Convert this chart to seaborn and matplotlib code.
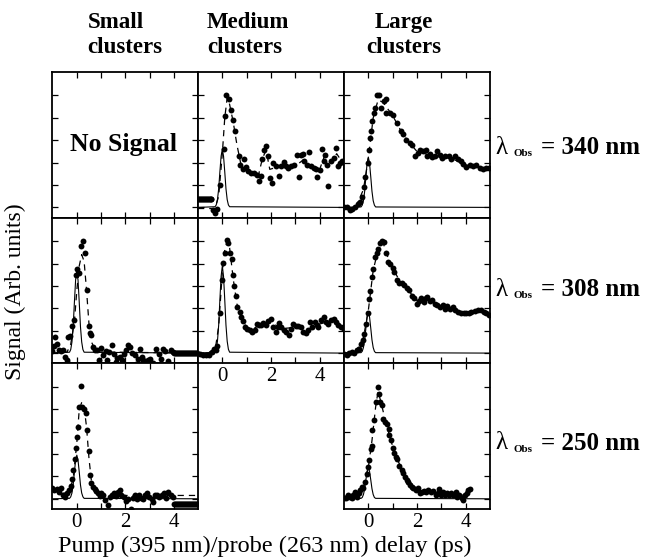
import matplotlib
matplotlib.use("Agg")
import matplotlib.pyplot as plt
import seaborn as sns

# ---- data (delay in ps, signal in arb. units) ----

# instrument response (solid line), shared delay grid
irf_t = [-1.0, -0.3, -0.25, -0.2, -0.15, -0.1, -0.05, 0.0, 0.05, 0.1, 0.15, 0.2, 0.25, 0.3, 5.0]

# Medium clusters, 340 nm
med340_t = [-0.40, -0.31, -0.20, -0.09, 0.05, 0.09, 0.17, 0.26, 0.35, 0.43, 0.51, 0.67, 0.90, 0.73,
            0.83, 0.97, 1.06, 1.17, 1.31, 1.42, 1.49, 1.58, 1.62, 1.72, 1.80, 1.86, 1.94, 2.04, 2.10,
            2.20, 2.31, 2.41, 2.52, 2.61, 2.71, 2.82, 2.95, 3.07, 3.16, 3.23, 3.30, 3.37, 3.47, 3.55,
            3.64, 3.75, 3.84, 3.91, 4.02, 4.10, 4.16, 4.23, 4.30, 4.36, 4.46, 4.57, 4.67, 4.74, 4.83, 4.93]
med340_s = [-0.11, -0.26, -0.08, 1.01, 2.61, 4.07, 5.04, 4.85, 4.37, 3.92, 3.43, 2.28, 2.17, 1.91,
            1.71, 1.80, 1.61, 1.53, 1.53, 1.46, 1.19, 1.41, 2.16, 2.58, 2.73, 2.31, 1.31, 1.09, 1.98,
            1.83, 1.41, 1.83, 2.05, 1.83, 1.78, 1.83, 1.91, 2.34, 1.35, 2.34, 2.40, 2.08, 1.91, 2.46,
            1.83, 1.75, 1.70, 1.35, 1.68, 2.61, 2.06, 2.34, 1.88, 0.96, 2.08, 2.20, 2.64, 1.83, 1.98, 2.08]
med340_hold_t = [-1.0, -0.96, -0.92, -0.88, -0.84, -0.8, -0.76, -0.72, -0.68, -0.64, -0.6, -0.56,
                 -0.52, -0.48, -0.45]
med340_hold_s = 0.38
med340_fit_t = [-1.0, -0.3, -0.15, 0.0, 0.1, 0.2, 0.3, 0.45, 0.6, 0.75, 0.9, 1.2, 1.5, 1.65, 1.8,
                1.95, 2.1, 2.5, 3.0, 3.3, 3.6, 4.0, 4.2, 4.5, 4.7, 5.0]
med340_fit_s = [-0.05, -0.05, 0.5, 2.4, 4.0, 4.9, 4.6, 3.8, 2.8, 2.0, 1.75, 1.6, 1.5, 2.2, 2.55,
                1.7, 1.75, 1.85, 1.85, 2.1, 1.9, 1.7, 2.3, 2.0, 2.4, 1.9]
med340_irf = [0, 0.03, 0.11, 0.35, 0.83, 1.59, 2.29, 2.6, 2.29, 1.59, 0.83, 0.35, 0.11, 0.03, 0]

# Large clusters, 340 nm
lrg340_t = [-1.0, -0.88, -0.77, -0.66, -0.54, -0.44, -0.36, -0.27, -0.19, -0.12, -0.03, 0.04, 0.05,
            0.11, 0.16, 0.22, 0.29, 0.36, 0.44, 0.53, 0.63, 0.71, 0.74, 0.88, 1.02, 1.19, 1.33, 1.44,
            1.56, 1.70, 1.81, 1.93, 2.04, 2.14, 2.25, 2.35, 2.43, 2.52, 2.63, 2.73, 2.82, 2.93, 3.04,
            3.17, 3.30, 3.41, 3.55, 3.68, 3.79, 3.90, 4.03, 4.16, 4.30, 4.43, 4.57, 4.71, 4.85, 4.96]
lrg340_s = [0.04, 0.01, -0.11, -0.08, 0.01, 0.16, 0.22, 0.48, 0.90, 1.38, 2.00, 2.58, 3.10,
            3.43, 3.85, 4.22, 4.45, 5.04, 5.04, 4.45, 4.74, 4.85, 4.22, 4.20, 4.15, 3.78, 3.40, 3.30,
            3.00, 2.88, 2.80, 2.31, 2.43, 2.58, 2.50, 2.58, 2.31, 2.40, 2.25, 2.31, 2.50, 2.36, 2.20,
            2.28, 2.31, 2.18, 2.28, 2.16, 2.06, 1.95, 1.80, 1.90, 1.86, 1.90, 1.75, 1.70, 1.75, 1.75]
lrg340_fit_t = [-1.0, -0.5, -0.2, 0.0, 0.2, 0.4, 0.6, 0.8, 1.0, 1.3, 1.6, 2.0, 2.5, 3.0, 3.5, 4.0, 4.5, 5.0]
lrg340_fit_s = [0.0, 0.05, 0.8, 2.2, 4.0, 4.8, 4.7, 4.4, 4.1, 3.5, 3.0, 2.5, 2.35, 2.3, 2.15, 1.9, 1.8, 1.7]
lrg340_irf = [0, 0.02, 0.1, 0.3, 0.72, 1.37, 1.98, 2.25, 1.98, 1.37, 0.72, 0.3, 0.1, 0.02, 0]

# Small clusters, 308 nm
sml308_t = [-1.01, -0.95, -0.88, -0.81, -0.74, -0.67, -0.56, -0.49, -0.42, -0.32, -0.38, -0.26, -0.18,
            -0.11, -0.04, 0.01, 0.09, 0.18, 0.25, 0.32, 0.40, 0.48, 0.54, 0.60, 0.67, 0.74, 0.83, 0.92,
            1.01, 1.08, 1.19, 1.26, 1.33, 1.45, 1.52, 1.60, 1.67, 1.77, 1.85, 1.93, 2.01, 2.11, 2.20,
            2.28, 2.38, 2.45, 2.51, 2.58, 2.66, 2.74, 2.82, 2.92, 2.99, 3.07, 3.15, 3.26, 3.36, 3.47,
            3.56, 3.64, 3.74, 3.88, 3.94]
sml308_s = [0.09, 0.31, 0.72, 0.42, 0.13, 0.09, 0.15, -0.18, -0.33, -0.48, 0.72, 0.75, 1.20,
            1.47, 3.48, 3.74, 3.59, 4.78, 5.02, 4.48, 2.84, 1.20, 0.90, 0.80, 0.27, 0.15, 0.15, -0.33,
            0.24, -0.10, 0.09, -0.33, 0.04, 0.35, -0.06, -0.40, -0.21, -0.18, -0.33, -0.03, 0.12, 0.35, 0.27,
            0.0, -0.10, -0.48, -0.25, 0.19, -0.18, -0.33, -0.40, -0.33, -0.25, -0.48, -0.45, 0.19, -0.03, -0.28,
            0.19, 0.09, -0.36, 0.12, 0.04]
sml308_hold_t = [4.0, 4.04, 4.08, 4.12, 4.16, 4.2, 4.24, 4.28, 4.32, 4.36, 4.4, 4.44, 4.48, 4.52,
                 4.56, 4.6, 4.64, 4.68, 4.72, 4.76, 4.8, 4.84, 4.88, 4.92, 4.96]
sml308_hold_s = 0.0
sml308_fit_t = [-1.0, -0.4, -0.25, -0.1, 0.0, 0.1, 0.2, 0.3, 0.4, 0.5, 0.6, 0.8, 5.0]
sml308_fit_s = [0.0, 0.05, 0.4, 1.4, 2.8, 3.9, 4.4, 4.1, 2.8, 1.3, 0.5, 0.05, 0.0]
sml308_irf = [0, 0.04, 0.16, 0.5, 1.18, 2.26, 3.26, 3.7, 3.26, 2.26, 1.18, 0.5, 0.16, 0.04, 0]

# Medium clusters, 308 nm
med308_t = [-1.03, -0.92, -0.78, -0.67, -0.55, -0.44, -0.34, -0.27, -0.21, -0.10, -0.03, 0.03, 0.09,
            0.18, 0.25, 0.31, 0.40, 0.44, 0.48, 0.55, 0.62, 0.72, 0.78, 0.85, 0.92, 1.03, 1.12, 1.23,
            1.33, 1.41, 1.51, 1.60, 1.69, 1.78, 1.88, 1.99, 2.10, 2.19, 2.29, 2.33, 2.42, 2.53, 2.63,
            2.74, 2.81, 2.90, 3.01, 3.11, 3.22, 3.31, 3.42, 3.51, 3.60, 3.70, 3.79, 3.88, 3.94, 4.04,
            4.16, 4.25, 4.35, 4.46, 4.57, 4.66, 4.76, 4.87, 4.98]
med308_s = [0.0, -0.03, -0.10, -0.10, -0.10, 0.07, 0.18, 0.15, 0.30, 1.77, 3.26, 4.01, 4.48,
            5.05, 4.90, 4.46, 4.20, 3.48, 2.99, 2.54, 2.06, 1.84, 1.61, 1.43, 1.17, 1.09, 1.05, 0.94,
            1.02, 1.32, 1.24, 1.27, 1.36, 1.24, 1.43, 1.51, 1.17, 0.94, 1.17, 1.36, 1.17, 1.02, 0.94,
            0.79, 1.09, 1.29, 1.20, 1.20, 1.17, 0.94, 0.90, 1.02, 1.39, 1.17, 1.39, 1.24, 1.17, 1.47,
            1.61, 1.39, 1.32, 1.49, 1.54, 1.39, 1.24, 1.17, 1.09]
med308_fit_t = [-1.0, -0.3, -0.15, 0.0, 0.1, 0.2, 0.3, 0.45, 0.6, 0.8, 1.0, 1.3, 1.6, 2.0, 2.5,
                3.0, 3.5, 4.0, 4.5, 5.0]
med308_fit_s = [-0.05, 0.1, 1.2, 3.6, 4.6, 5.0, 4.7, 3.3, 2.2, 1.5, 1.15, 1.1, 1.3, 1.35, 1.1,
                1.15, 1.05, 1.3, 1.45, 1.15]
med308_irf = [0, 0.04, 0.17, 0.53, 1.25, 2.38, 3.43, 3.9, 3.43, 2.38, 1.25, 0.53, 0.17, 0.04, 0]

# Large clusters, 308 nm
lrg308_t = [-1.0, -0.88, -0.78, -0.67, -0.58, -0.48, -0.40, -0.30, -0.23, -0.18, -0.09, -0.01, 0.02,
            0.07, 0.14, 0.21, 0.28, 0.35, 0.41, 0.49, 0.58, 0.64, 0.72, 0.80, 0.90, 1.00, 1.07, 1.17,
            1.26, 1.37, 1.46, 1.57, 1.68, 1.78, 1.87, 1.98, 2.09, 2.18, 2.28, 2.36, 2.43, 2.53, 2.62,
            2.73, 2.83, 2.94, 3.05, 3.14, 3.24, 3.35, 3.46, 3.55, 3.69, 3.80, 3.92, 4.03, 4.14, 4.24,
            4.37, 4.51, 4.64, 4.75, 4.85, 4.94]
lrg308_s = [-0.03, -0.07, 0.0, 0.04, 0.0, 0.12, 0.19, 0.39, 0.57, 0.84, 1.29, 1.77, 2.41,
            2.78, 3.38, 3.78, 4.28, 4.46, 4.63, 4.93, 5.02, 4.97, 4.48, 4.08, 3.98, 3.79, 3.63, 3.26,
            3.14, 3.11, 3.03, 2.89, 2.81, 2.56, 2.47, 2.21, 2.34, 2.44, 2.29, 2.44, 2.51, 2.34, 2.36,
            2.21, 2.14, 2.04, 2.14, 1.99, 2.09, 1.99, 2.04, 1.92, 1.84, 1.80, 1.77, 1.80, 1.80, 1.84,
            1.87, 1.92, 1.92, 1.84, 1.77, 1.69]
lrg308_fit_t = [-1.0, -0.5, -0.2, 0.0, 0.2, 0.4, 0.6, 0.8, 1.0, 1.3, 1.6, 2.0, 2.5, 3.0, 3.5, 4.0, 4.5, 5.0]
lrg308_fit_s = [0.0, 0.08, 0.7, 1.9, 3.7, 4.6, 4.95, 4.3, 3.8, 3.2, 2.85, 2.35, 2.35, 2.1, 1.95, 1.8, 1.88, 1.7]
lrg308_irf = [0, 0.02, 0.08, 0.25, 0.59, 1.12, 1.62, 1.84, 1.62, 1.12, 0.59, 0.25, 0.08, 0.02, 0]

# Small clusters, 250 nm
sml250_t = [-1.0, -0.92, -0.83, -0.74, -0.63, -0.56, -0.48, -0.40, -0.32, -0.25, -0.20, -0.14, -0.08,
            -0.05, 0.0, 0.05, 0.09, 0.16, 0.22, 0.31, 0.37, 0.42, 0.50, 0.54, 0.60, 0.67, 0.74, 0.80,
            0.87, 0.94, 1.01, 1.08, 1.16, 1.29, 1.35, 1.45, 1.53, 1.63, 1.71, 1.76, 1.83, 1.93, 2.01,
            2.11, 2.21, 2.29, 2.38, 2.48, 2.55, 2.63, 2.73, 2.82, 2.89, 2.97, 3.07, 3.14, 3.21, 3.30,
            3.38, 3.48, 3.57, 3.66, 3.75, 3.85, 3.94]
sml250_s = [0.49, 0.38, 0.44, 0.30, 0.49, 0.15, 0.10, 0.27, 0.41, 0.56, 0.89, 1.30, 1.79,
            2.27, 2.78, 3.20, 4.12, 5.04, 4.12, 4.00, 3.85, 3.08, 2.12, 1.08, 0.71, 0.53, 0.44, 0.33,
            0.26, 0.14, 0.26, 0.19, -0.04, -0.28, 0.10, 0.16, 0.27, 0.12, 0.30, 0.38, 0.19, 0.10, -0.09,
            -0.01, -0.44, 0.03, 0.16, 0.01, 0.19, 0.04, -0.01, 0.16, 0.27, 0.10, -0.01, -0.16, 0.16, 0.19,
            0.10, 0.16, 0.24, 0.04, 0.30, 0.16, 0.10]
sml250_hold_t = [4.0, 4.04, 4.08, 4.12, 4.16, 4.2, 4.24, 4.28, 4.32, 4.36, 4.4, 4.44, 4.48, 4.52,
                 4.56, 4.6, 4.64, 4.68, 4.72, 4.76, 4.8, 4.84, 4.88, 4.92, 4.96]
sml250_hold_s = -0.21
sml250_fit_t = [-1.0, -0.5, -0.3, -0.15, 0.0, 0.1, 0.2, 0.3, 0.4, 0.5, 0.6, 0.8, 1.0, 5.0]
sml250_fit_s = [0.35, 0.25, 0.35, 0.9, 2.5, 4.0, 4.3, 4.1, 3.2, 1.8, 0.8, 0.3, 0.15, 0.15]
sml250_irf = [0, 0.02, 0.09, 0.26, 0.62, 1.19, 1.72, 1.95, 1.72, 1.19, 0.62, 0.26, 0.09, 0.02, 0]

# Large clusters, 250 nm
lrg250_t = [-1.02, -0.91, -0.82, -0.75, -0.68, -0.61, -0.54, -0.47, -0.40, -0.34, -0.27, -0.20, -0.14,
            -0.07, -0.01, 0.04, 0.10, 0.14, 0.17, 0.23, 0.30, 0.39, 0.44, 0.48, 0.58, 0.62, 0.69, 0.76,
            0.83, 0.86, 0.92, 1.00, 1.06, 1.13, 1.19, 1.28, 1.37, 1.44, 1.51, 1.58, 1.65, 1.72, 1.78,
            1.85, 1.96, 2.06, 2.13, 2.19, 2.29, 2.37, 2.47, 2.56, 2.67, 2.77, 2.85, 2.92, 2.98, 3.08,
            3.16, 3.25, 3.33, 3.40, 3.49, 3.59, 3.66, 3.74, 3.84, 3.90, 3.97, 4.04, 4.11, 4.18]
lrg250_s = [0.02, 0.05, 0.17, 0.10, 0.02, 0.17, 0.32, 0.10, 0.24, 0.39, 0.54, 0.47, 0.76,
            1.13, 1.43, 1.72, 2.24, 2.35, 3.06, 3.53, 4.32, 5.01, 4.69, 4.32, 4.17, 3.58, 3.43, 3.33,
            3.13, 2.84, 2.61, 2.29, 2.06, 1.88, 1.76, 1.46, 1.28, 1.14, 0.99, 0.84, 0.77, 0.62, 0.54,
            0.47, 0.39, 0.47, 0.24, 0.32, 0.36, 0.32, 0.39, 0.32, 0.36, 0.17, 0.27, 0.42, 0.17, 0.32,
            0.17, 0.27, 0.17, 0.27, 0.17, 0.32, 0.10, 0.17, 0.02, -0.05, 0.17, 0.27, 0.39, 0.42]
lrg250_fit_t = [-1.0, -0.5, -0.2, 0.0, 0.15, 0.3, 0.4, 0.5, 0.7, 0.9, 1.1, 1.3, 1.6, 2.0, 2.5,
                3.0, 3.5, 4.0, 4.2]
lrg250_fit_s = [0.1, 0.2, 0.5, 1.4, 2.6, 4.1, 4.8, 4.4, 3.5, 2.7, 2.0, 1.5, 0.9, 0.4, 0.33,
                0.25, 0.2, 0.15, 0.35]
lrg250_irf = [0, 0.02, 0.06, 0.19, 0.45, 0.85, 1.23, 1.4, 1.23, 0.85, 0.45, 0.19, 0.06, 0.02, 0]

col_titles = ["Small\nclusters", "Medium\nclusters", "Large\nclusters"]
wavelengths = ["340", "308", "250"]
x_tick_labels = ["0", "", "2", "", "4"]

# ---- figure ----
sns.set_theme(style="ticks")
plt.rcParams['font.family'] = ['Liberation Serif', 'DejaVu Serif']
plt.rcParams['text.color'] = 'black'
plt.rcParams['xtick.color'] = 'black'
plt.rcParams['ytick.color'] = 'black'

W, H = 653, 560
fig = plt.figure(figsize=(W / 100, H / 100), dpi=100)

col_left = [52, 197.5, 343.5]
row_top = [72, 217.7, 363.4]
pw, ph = 146, 145.7


def ftext(xp, yp, s, **kw):
    return fig.text(xp / W, 1 - yp / H, s, color='black', **kw)


def make_ax(r, c, labels=False):
    ax = fig.add_axes([col_left[c] / W, 1 - (row_top[r] + ph) / H, pw / W, ph / H])
    ax.set_xlim(-1.02, 4.98)
    ax.set_ylim(-0.46, 6.05)
    ax.set_xticks([0, 1, 2, 3, 4])
    ax.set_yticks([0, 1, 2, 3, 4, 5])
    ax.tick_params(direction='in', top=True, right=True, length=4, width=0.9,
                   color='black', labelcolor='black', labelleft=False,
                   labelbottom=labels, pad=2.5)
    if labels:
        ax.set_xticklabels(x_tick_labels, fontsize=15)
    for sp in ax.spines.values():
        sp.set_linewidth(1.3)
        sp.set_color('black')
    return ax


def draw(ax, t, s, fit_t, fit_s, irf_s, hold_t=None, hold_s=None):
    sns.lineplot(x=irf_t, y=irf_s, ax=ax, color='black', linewidth=0.8,
                 estimator=None, sort=False)
    sns.lineplot(x=fit_t, y=fit_s, ax=ax, color='black', linewidth=0.9,
                 linestyle=(0, (5, 4)), estimator=None, sort=False)
    sns.scatterplot(x=t, y=s, ax=ax, color='black', s=18, linewidth=0, zorder=3)
    if hold_t is not None:
        sns.scatterplot(x=hold_t, y=[hold_s] * len(hold_t), ax=ax, color='black',
                        s=18, linewidth=0, zorder=3)
    ax.set_xlabel('')
    ax.set_ylabel('')


# row 1: 340 nm
make_ax(0, 0)
draw(make_ax(0, 1), med340_t, med340_s, med340_fit_t, med340_fit_s, med340_irf,
     med340_hold_t, med340_hold_s)
draw(make_ax(0, 2), lrg340_t, lrg340_s, lrg340_fit_t, lrg340_fit_s, lrg340_irf)

# row 2: 308 nm
draw(make_ax(1, 0), sml308_t, sml308_s, sml308_fit_t, sml308_fit_s, sml308_irf,
     sml308_hold_t, sml308_hold_s)
draw(make_ax(1, 1, labels=True), med308_t, med308_s, med308_fit_t, med308_fit_s, med308_irf)
draw(make_ax(1, 2), lrg308_t, lrg308_s, lrg308_fit_t, lrg308_fit_s, lrg308_irf)

# row 3: 250 nm (no medium panel)
draw(make_ax(2, 0, labels=True), sml250_t, sml250_s, sml250_fit_t, sml250_fit_s, sml250_irf,
     sml250_hold_t, sml250_hold_s)
draw(make_ax(2, 2, labels=True), lrg250_t, lrg250_s, lrg250_fit_t, lrg250_fit_s, lrg250_irf)

# text
ftext(124, 144, "No Signal", fontsize=18.5, fontweight='bold', ha='center', va='center')

title_x = [125, 248, 404]
title_align = ['left', 'left', 'center']
for tx, tl, al in zip(title_x, col_titles, title_align):
    ftext(tx, 35, tl, fontsize=16.5, fontweight='bold', ha='center', va='center',
          multialignment=al, linespacing=1.3)

row_y = [148, 290, 443]
for yy, wl in zip(row_y, wavelengths):
    ftext(495, yy, "\u03bb", fontsize=18, ha='left', va='center')
    ftext(514, yy + 6, "Obs", fontsize=8, fontweight='bold', ha='left', va='center')
    ftext(541, yy, "= " + wl + " nm", fontsize=18, fontweight='bold', ha='left', va='center')

ftext(15, 292, "Signal (Arb. units)", fontsize=17, rotation=90, ha='center', va='center')
ftext(265, 546, "Pump (395 nm)/probe (263 nm) delay (ps)", fontsize=17.5,
      ha='center', va='center')

fig.savefig("out.png", dpi=100)
